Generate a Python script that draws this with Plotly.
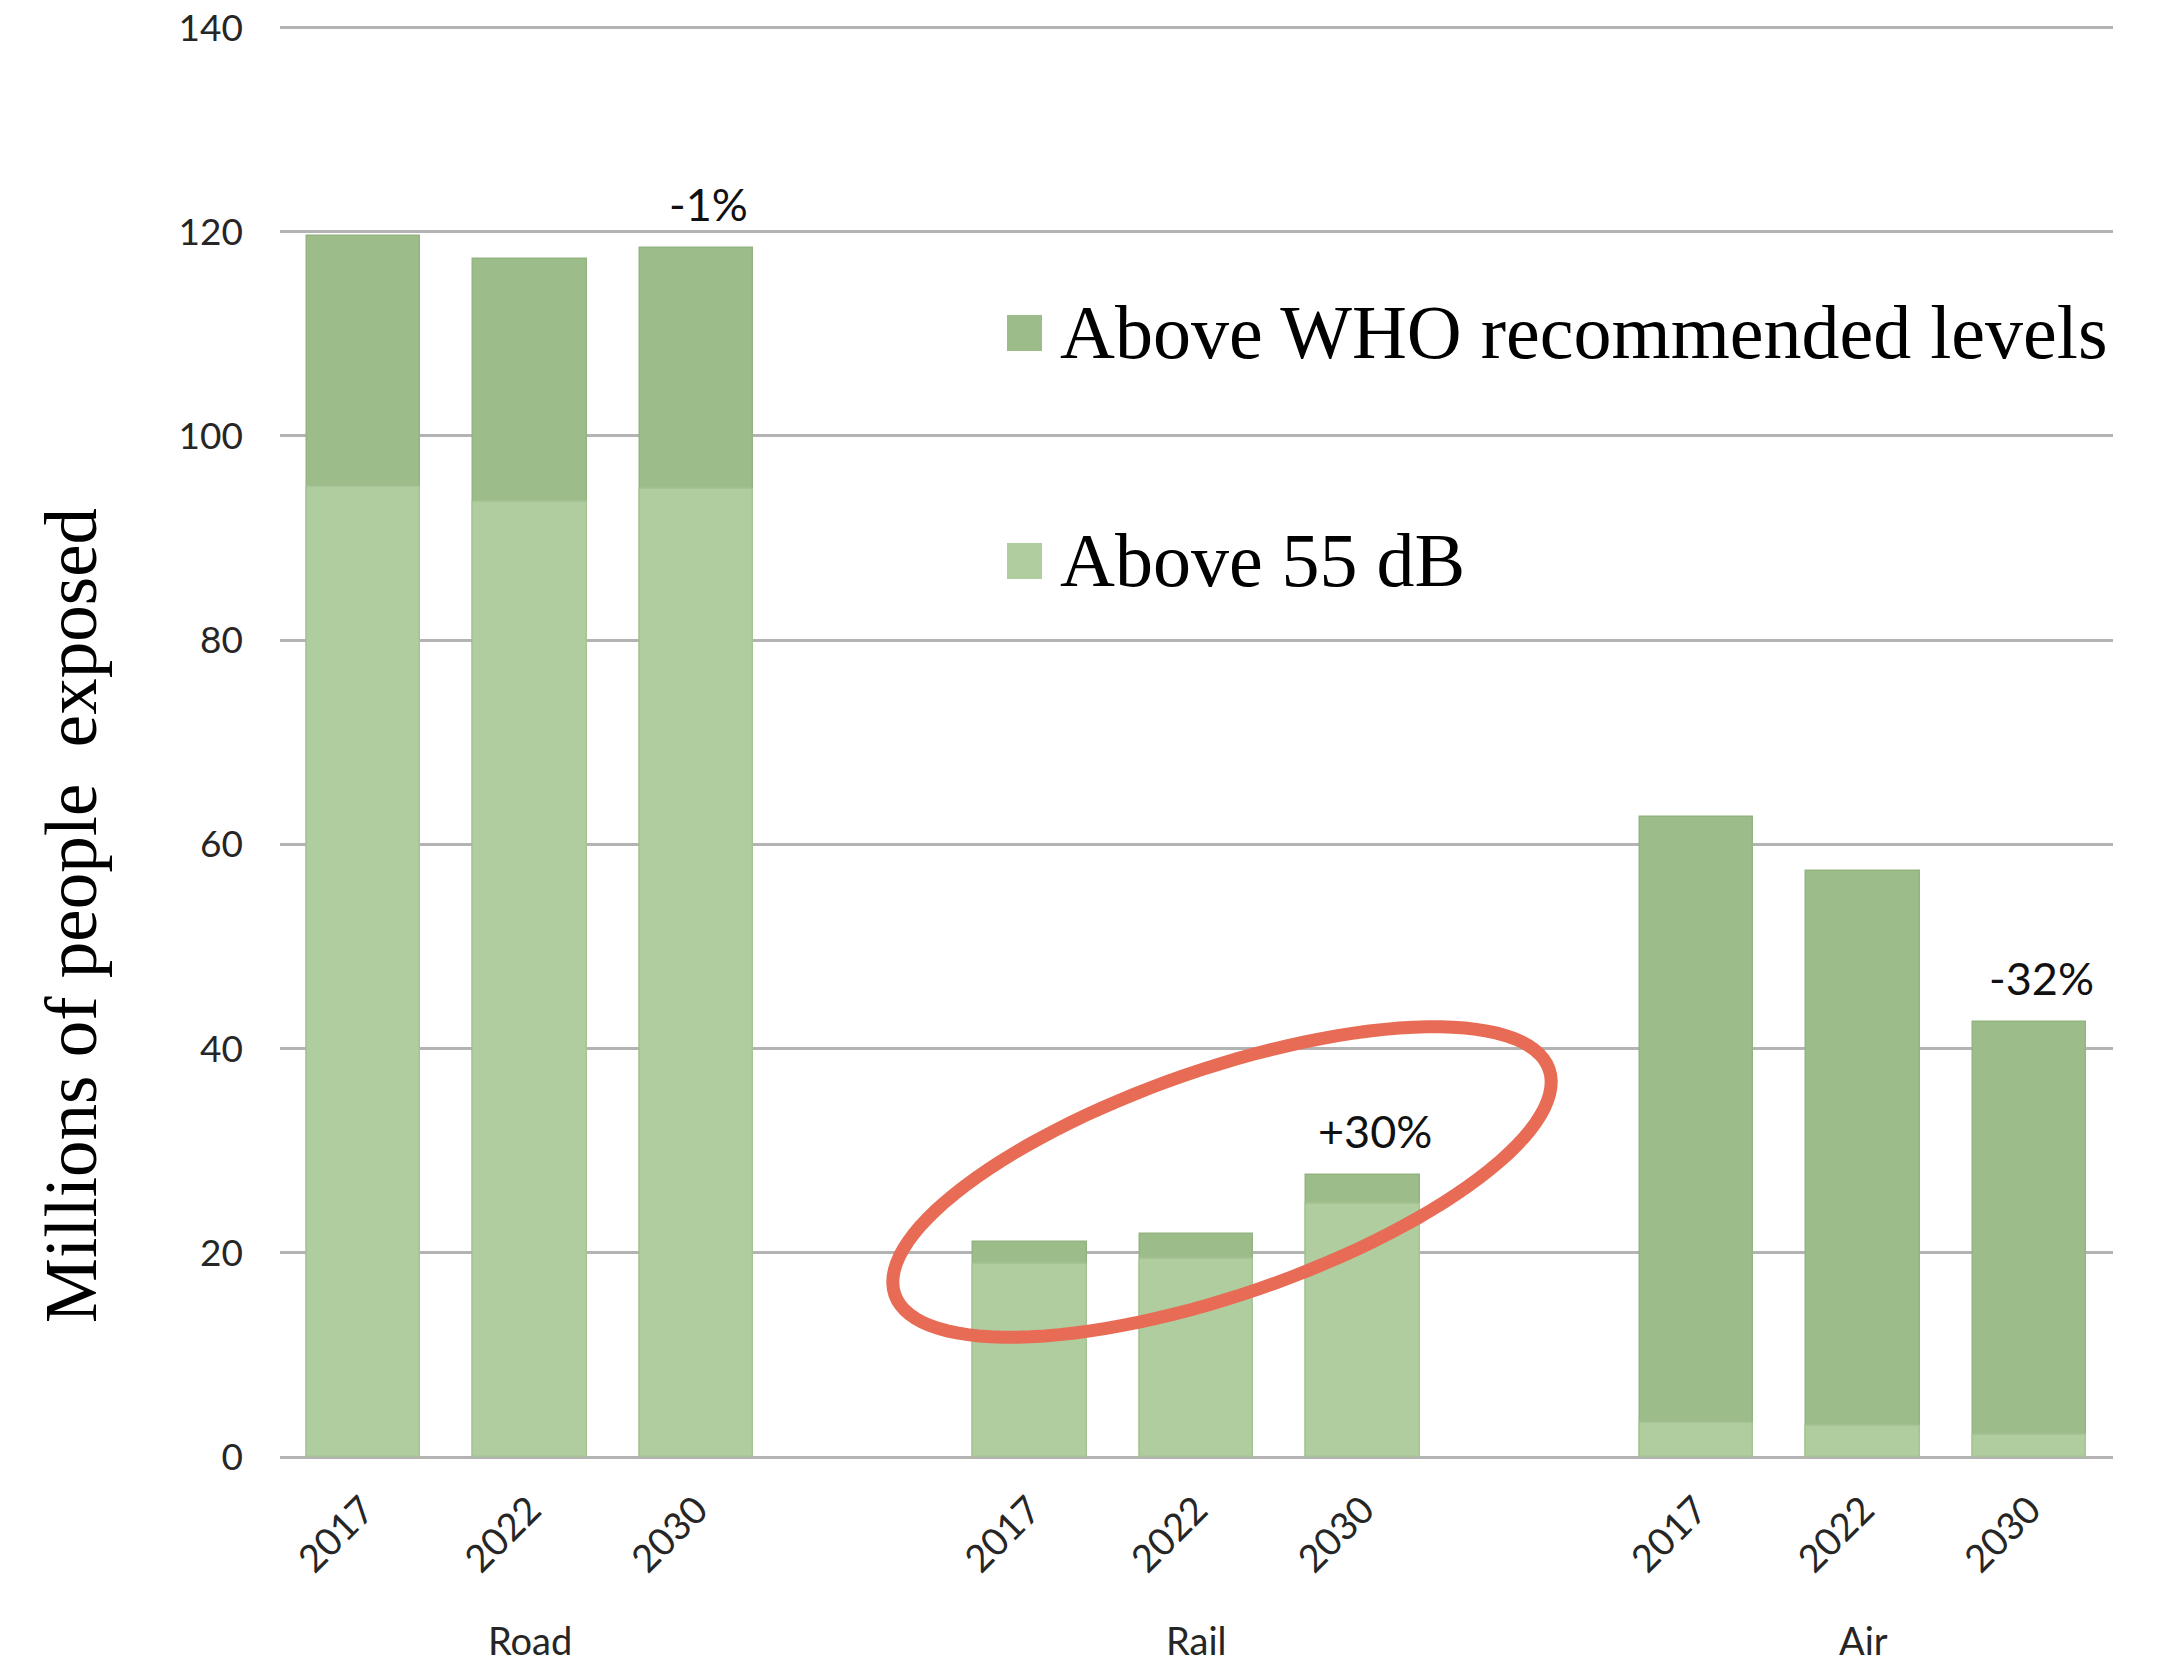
import numpy as np
import plotly.graph_objects as go

# Transport noise exposure, millions of people
modes = ["Road", "Rail", "Air"]
years = ["2017", "2022", "2030"]
above_who = [119.6, 117.3, 118.4, 21.1, 21.8, 27.6, 62.7, 57.4, 42.6]
above_55db = [95.0, 93.5, 94.8, 18.9, 19.4, 24.8, 3.3, 3.0, 2.2]
change_labels = {"Road": "-1%", "Rail": "+30%", "Air": "-32%"}
series_names = ["Above WHO recommended levels", "Above 55 dB"]

DARK = "#9CBC8A"
LIGHT = "#B0CDA0"
EDGE = "#93B381"
GRID = "#B3B3B3"
TEXT = "#262626"
SANS = "Lato, 'Open Sans', sans-serif"
SERIF = "'Liberation Serif', 'Times New Roman', serif"

W, H = 2161, 1665
ML, MR, MT, MB = 280, 48, 24, 208
PW, PH = W - ML - MR, H - MT - MB
Y_TOP = 140.35  # a touch above 140 so the top gridline is drawn

# one slot per year, an empty slot between modes
xpos, xlab = [], []
for g, _ in enumerate(modes):
    for k, yr in enumerate(years):
        xpos.append(g * (len(years) + 1) + k)
        xlab.append(yr)

fig = go.Figure()
fig.add_trace(go.Bar(x=xpos, y=above_who, name=series_names[0], width=0.68,
                     marker=dict(color=DARK, line=dict(color=EDGE, width=1.5)),
                     showlegend=False))
fig.add_trace(go.Bar(x=xpos, y=above_55db, name=series_names[1], width=0.68,
                     marker=dict(color=LIGHT, line=dict(color="#A5C394", width=1.5)),
                     showlegend=False))

annotations = []
# change labels above the 2030 bar of each mode
for g, m in enumerate(modes):
    i = g * len(years) + len(years) - 1
    annotations.append(dict(x=xpos[i], y=above_who[i], xref="x", yref="y",
                            text=change_labels[m], showarrow=False,
                            xshift=12, yshift=44, yanchor="middle",
                            font=dict(family=SANS, size=45, color="#111111")))
    mid = g * len(years) + 1
    annotations.append(dict(x=xpos[mid], y=-0.128, xref="x", yref="paper",
                            text=m, showarrow=False, yanchor="middle",
                            font=dict(family=SANS, size=38, color=TEXT)))


def px_to_paper(px, py):
    return (px - ML) / PW, (MT + PH - py) / PH


# y-axis title
tx, ty = px_to_paper(72, 916)
annotations.append(dict(x=tx, y=ty, xref="paper", yref="paper", textangle=-90,
                        text="Millions of people  exposed", showarrow=False,
                        xanchor="center", yanchor="middle",
                        font=dict(family=SERIF, size=73, color="#000000")))

# legend: colour squares with serif labels
shapes = []
for name, col, cy in [(series_names[0], DARK, 333), (series_names[1], LIGHT, 561)]:
    x0, y0 = px_to_paper(1007, cy - 18)
    x1, y1 = px_to_paper(1042, cy + 18)
    shapes.append(dict(type="rect", xref="paper", yref="paper", x0=x0, x1=x1,
                       y0=y0, y1=y1, fillcolor=col, line=dict(width=0)))
    lx, ly = px_to_paper(1058, cy - 1)
    annotations.append(dict(x=lx, y=ly, xref="paper", yref="paper", text=name,
                            showarrow=False, xanchor="left", yanchor="middle",
                            font=dict(family=SERIF, size=76, color="#000000")))

# highlight ring around the rail bars
cx, cy, a, b, th = 1222, 1182, 346, 113, np.deg2rad(19)
t = np.linspace(0, 2 * np.pi, 121)
ex = cx + a * np.cos(t) * np.cos(th) - b * np.sin(t) * np.sin(th)
ey = cy - (a * np.cos(t) * np.sin(th) + b * np.sin(t) * np.cos(th))
pts = [px_to_paper(u, v) for u, v in zip(ex, ey)]
path = "M " + " L ".join(f"{u:.5f},{v:.5f}" for u, v in pts) + " Z"
shapes.append(dict(type="path", xref="paper", yref="paper", path=path,
                   line=dict(color="#E86C55", width=13), fillcolor="rgba(0,0,0,0)"))

fig.update_layout(
    width=W, height=H,
    margin=dict(l=ML, r=MR, t=MT, b=MB, autoexpand=False),
    paper_bgcolor="white", plot_bgcolor="white",
    barmode="overlay", bargap=0,
    annotations=annotations, shapes=shapes,
    xaxis=dict(range=[-0.5, 10.5], tickmode="array", tickvals=xpos, ticktext=xlab,
               tickangle=-45, tickfont=dict(family=SANS, size=38, color=TEXT),
               showgrid=False, zeroline=False, showline=False, ticks="",
               ticklabelstandoff=22, automargin=False),
    yaxis=dict(range=[0, Y_TOP], tickvals=[0, 20, 40, 60, 80, 100, 120, 140],
               tickfont=dict(family=SANS, size=37, color=TEXT),
               showgrid=True, gridcolor=GRID, gridwidth=3,
               zeroline=True, zerolinecolor=GRID, zerolinewidth=3,
               showline=False, ticks="", ticklabelstandoff=36, automargin=False),
)

fig.write_html("out.html")
